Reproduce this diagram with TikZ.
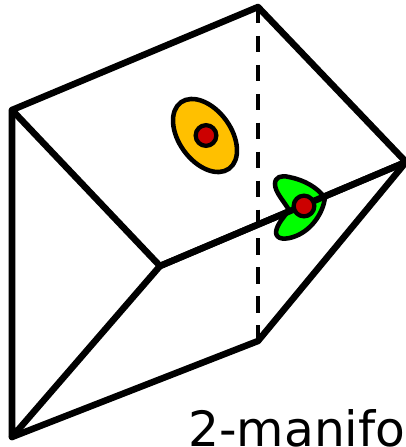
\documentclass[tikz,border=0pt]{standalone}
\usepackage{fontspec}
\setmainfont{DejaVu Sans}
\definecolor{amber}{RGB}{255,192,0}
\definecolor{vivid}{RGB}{0,255,0}
\definecolor{dot}{RGB}{204,0,0}
\tikzset{
  edgeline/.style={draw=black,line width=4.9pt,line cap=round,line join=round},
  hiddenline/.style={draw=black,line width=3.4pt,dash pattern=on 12.3pt off 9.4pt},
  blob/.style={draw=black,line width=3.4pt},
  vertexdot/.style={circle,draw=black,line width=3.2pt,fill=dot,minimum size=15.5pt,inner sep=0pt}
}
\begin{document}
\begin{tikzpicture}[x=0.75pt,y=-0.75pt]
\useasboundingbox (0,0) rectangle (406,447);
\clip (0,0) rectangle (406,447);
\fill[white] (0,0) rectangle (406,447);
\coordinate (A) at (12,110);
\coordinate (B) at (258,7);
\coordinate (C) at (406,162);
\coordinate (D) at (160,266);
\coordinate (E) at (12,437);
\coordinate (F) at (258,341);
\draw[hiddenline] (B) -- (F);
\draw[edgeline] (A) -- (B) -- (C) -- (D) -- cycle;
\draw[edgeline] (A) -- (E) -- (D);
\draw[edgeline] (E) -- (F) -- (C);
\draw[blob,fill=amber,rotate around={-54:(205,135.5)}] (205,135.5) ellipse [x radius=41,y radius=26];
\draw[blob,fill=vivid,line join=round] (289,210)
  .. controls (283,200) and (275,192) .. (275,184) .. controls (275,177) and (281,175) .. (289,177)
  .. controls (304,180) and (317,187) .. (325,198) .. controls (323,212) and (313,229) .. (296,236)
  .. controls (286,240) and (276,240) .. (276,232) .. controls (277,224) and (284,217) .. (289,210) -- cycle;
\draw[edgeline] (D) -- (C);
\node[vertexdot] (p) at (206,135.5) {};
\node[vertexdot] (q) at (304,206) {};
\node[anchor=base west,inner sep=0pt,font=\fontsize{36.5pt}{36.5pt}\selectfont] (t) at (188,446) {2-manifo};
\end{tikzpicture}
\end{document}
